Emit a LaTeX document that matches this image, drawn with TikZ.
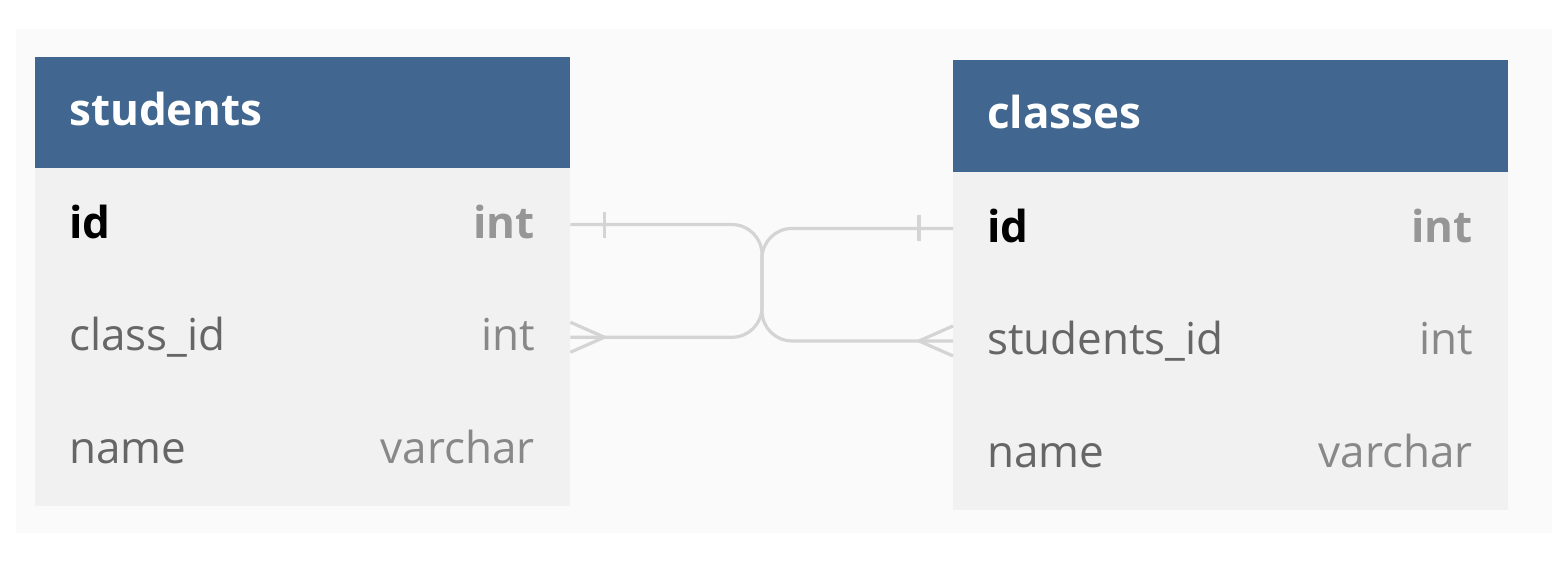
\documentclass[tikz,border=0pt]{standalone}
\usepackage{fontspec}
\setmainfont{Open Sans}
\usetikzlibrary{calc}
\definecolor{hdr}{RGB}{65,102,143}
\definecolor{rowbg}{RGB}{241,241,241}
\definecolor{panel}{RGB}{250,250,250}
\definecolor{conncol}{RGB}{212,212,212}
\definecolor{fname}{RGB}{102,102,102}
\definecolor{ftype}{RGB}{136,136,136}
\definecolor{pktype}{RGB}{150,150,150}
\tikzset{
  hdrbox/.style={fill=hdr, draw=none, inner sep=0pt},
  rowbox/.style={fill=rowbg, draw=none, inner sep=0pt},
  ttl/.style={anchor=base west, inner sep=0pt, text=white, font=\fontsize{44}{50}\selectfont\bfseries},
  pkname/.style={anchor=base west, inner sep=0pt, text=black, font=\fontsize{44}{50}\selectfont\bfseries},
  pktyp/.style={anchor=base east, inner sep=0pt, text=pktype, font=\fontsize{44}{50}\selectfont\bfseries},
  fld/.style={anchor=base west, inner sep=0pt, text=fname, font=\fontsize{44}{50}\selectfont},
  typ/.style={anchor=base east, inner sep=0pt, text=ftype, font=\fontsize{44}{50}\selectfont},
  conn/.style={draw=conncol, line width=3.2pt, rounded corners=30pt},
  endmark/.style={draw=conncol, line width=3.2pt}
}
\begin{document}
\begin{tikzpicture}[x=1pt,y=-1pt]
\useasboundingbox (0,0) rectangle (1566,578);
\fill[white] (0,0) rectangle (1566,578);
\fill[panel] (16,29) rectangle (1552,533);
% students table
\path[hdrbox] (35,57) rectangle (570,168);
\node[rowbox, minimum width=535pt, minimum height=112.7pt, anchor=north west] (sid) at (35,168) {};
\node[rowbox, minimum width=535pt, minimum height=112.7pt, anchor=north west] (scls) at (35,280.7) {};
\node[rowbox, minimum width=535pt, minimum height=112.7pt, anchor=north west] (sname) at (35,393.4) {};
\node[ttl] (sttl) at (69,125) {students};
\node[pkname] (sidn) at (69,238) {id};
\node[pktyp] (sidt) at (535,238) {int};
\node[fld] (sclsn) at (69,350) {class\_id};
\node[typ] (sclst) at (535,350) {int};
\node[fld] (snamen) at (69,463) {name};
\node[typ] (snamet) at (535,463) {varchar};
% classes table
\path[hdrbox] (953,60) rectangle (1508,172);
\node[rowbox, minimum width=555pt, minimum height=112.5pt, anchor=north west] (cid) at (953,172) {};
\node[rowbox, minimum width=555pt, minimum height=112.5pt, anchor=north west] (cstu) at (953,284.5) {};
\node[rowbox, minimum width=555pt, minimum height=112.5pt, anchor=north west] (cname) at (953,397) {};
\node[ttl] (cttl) at (987,128) {classes};
\node[pkname] (cidn) at (987,242) {id};
\node[pktyp] (cidt) at (1473,242) {int};
\node[fld] (cstun) at (987,354) {students\_id};
\node[typ] (cstut) at (1473,354) {int};
\node[fld] (cnamen) at (987,467) {name};
\node[typ] (cnamet) at (1473,467) {varchar};
% connectors
\coordinate (mid) at (762,0);
\draw[conn] (scls.east) -- (scls.east -| mid) -- (cid.west -| mid) -- (cid.west);
\draw[conn] (cstu.west) -- (cstu.west -| mid) -- (sid.east -| mid) -- (sid.east);
% one bars
\draw[endmark] ($(sid.east)+(34,-13)$) -- ($(sid.east)+(34,13)$);
\draw[endmark] ($(cid.west)+(-34,-13)$) -- ($(cid.west)+(-34,13)$);
% crow's feet
\draw[endmark] ($(scls.east)+(0,-15)$) -- ($(scls.east)+(34,0)$) -- ($(scls.east)+(0,15)$);
\draw[endmark] ($(cstu.west)+(0,-15)$) -- ($(cstu.west)+(-34,0)$) -- ($(cstu.west)+(0,15)$);
\end{tikzpicture}
\end{document}
